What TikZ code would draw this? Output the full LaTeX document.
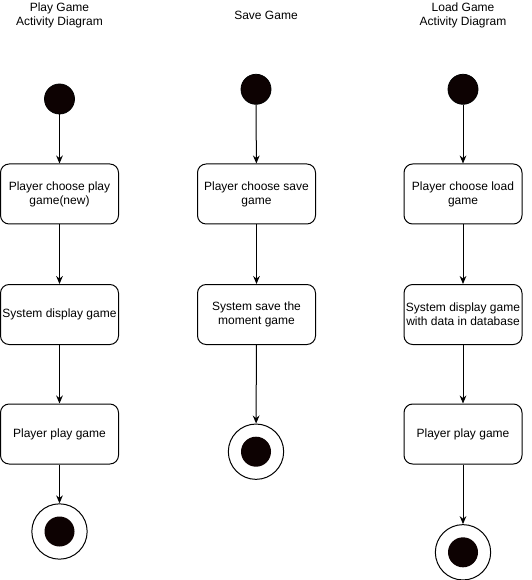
\documentclass[tikz,border=0pt]{standalone}
\usepackage{fontspec}
\setmainfont{Liberation Sans}
\usetikzlibrary{arrows.meta}
\definecolor{dotfill}{HTML}{0D0202}
\begin{document}
\begin{tikzpicture}[x=0.75pt,y=-0.75pt,
  act/.style={draw,rounded corners=6.5pt,minimum width=88.5pt,minimum height=45pt,align=center,font=\fontsize{9}{10.5}\selectfont,inner sep=1pt,line width=0.75pt},
  startdot/.style={circle,fill=dotfill,draw=black,minimum size=22.5pt,inner sep=0pt,line width=0.6pt},
  enddot/.style={circle,draw=black,fill=white,minimum size=41.5pt,inner sep=0pt,line width=0.75pt,
    path picture={\fill[dotfill] (path picture bounding box.center) circle (11.25pt);}},
  ttl/.style={align=center,font=\fontsize{9}{10.5}\selectfont},
  flow/.style={-{Stealth[length=6pt,width=5pt]},line width=0.75pt}]
\useasboundingbox (0,0) rectangle (531,580);
% titles
\node[ttl] (t1) at (59.5,15) {Play Game\\Activity Diagram};
\node[ttl] (t2) at (266,15) {Save Game};
\node[ttl] (t3) at (463,15) {Load Game\\Activity Diagram};
% column 1
\node[startdot] (s1) at (59.5,99) {};
\node[act] (a1) at (59.5,194) {Player choose play\\game(new)};
\node[act] (a2) at (59.5,314.5) {System display game};
\node[act] (a3) at (59.5,434) {Player play game};
\node[enddot] (e1) at (59.5,531.5) {};
\draw[flow] (s1) -- (a1);
\draw[flow] (a1) -- (a2);
\draw[flow] (a2) -- (a3);
\draw[flow] (a3) -- (e1);
% column 2
\node[startdot] (s2) at (256,89.3) {};
\node[act] (b1) at (256.5,194) {Player choose save\\game};
\node[act] (b2) at (256.5,314.5) {System save the\\moment game};
\node[enddot] (e2) at (256,451.7) {};
\draw[flow] (s2) -- (b1);
\draw[flow] (b1) -- (b2);
\draw[flow] (b2) -- (e2);
% column 3
\node[startdot] (s3) at (463,89.3) {};
\node[act] (c1) at (463,194) {Player choose load\\game};
\node[act] (c2) at (463,314.5) {System display game\\with data in database};
\node[act] (c3) at (463,434) {Player play game};
\node[enddot] (e3) at (463,552.3) {};
\draw[flow] (s3) -- (c1);
\draw[flow] (c1) -- (c2);
\draw[flow] (c2) -- (c3);
\draw[flow] (c3) -- (e3);
\end{tikzpicture}
\end{document}
